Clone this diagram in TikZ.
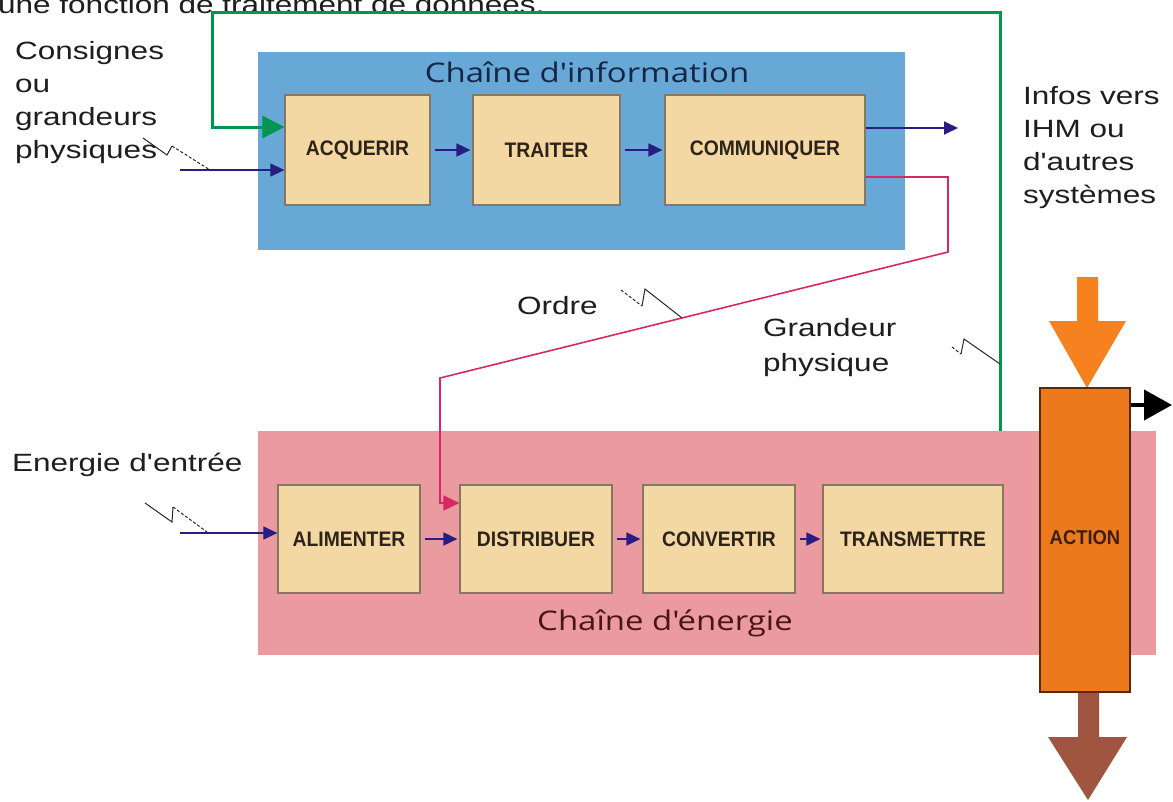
\documentclass[tikz,border=0pt]{standalone}
\usepackage{fontspec}
\setmainfont{Liberation Sans}
\newfontfamily\lblfont[FakeStretch=1.26]{Liberation Sans}
\newfontfamily\boxfont[FakeStretch=0.92]{Liberation Sans Bold}
\newfontfamily\titlefont[FakeStretch=1.22]{Open Sans}
\usetikzlibrary{arrows.meta}
\definecolor{infobg}{RGB}{104,168,214}
\definecolor{enbg}{RGB}{235,155,160}
\definecolor{boxbg}{RGB}{243,216,164}
\definecolor{boxline}{RGB}{130,120,100}
\definecolor{navy}{RGB}{40,30,130}
\definecolor{ordrec}{RGB}{215,40,100}
\definecolor{vert}{RGB}{0,150,80}
\definecolor{orangeA}{RGB}{236,122,28}
\definecolor{orangeB}{RGB}{245,130,30}
\definecolor{brun}{RGB}{160,85,65}
\definecolor{actline}{RGB}{90,40,10}
\definecolor{acttxt}{RGB}{60,30,10}
\definecolor{txt}{RGB}{30,30,30}
\definecolor{boxtxt}{RGB}{45,35,25}
\definecolor{infotitle}{RGB}{20,38,70}
\definecolor{entitle}{RGB}{75,20,25}
\tikzset{
  chainbg/.style={inner sep=0pt, draw=none},
  stepbox/.style={draw=boxline, fill=boxbg, line width=1.2pt, inner sep=0pt,
    text=boxtxt, font=\boxfont\fontsize{21}{24}\selectfont},
  lbl/.style={inner sep=0pt, text=txt, align=left, font=\lblfont\fontsize{25}{33}\selectfont},
  ttl/.style={inner sep=0pt, font=\titlefont\fontsize{27}{30}\selectfont},
  navyarrow/.style={draw=navy, line width=1.8pt, -{Triangle[length=14pt,width=13pt]}},
  thinarrow/.style={draw=navy, line width=1.1pt, -{Triangle[length=14pt,width=13pt]}},
  ordrearrow/.style={draw=ordrec, line width=1.6pt, -{Triangle[length=16pt,width=15pt]}},
  greenarrow/.style={draw=vert, line width=3pt, -{Triangle[length=22pt,width=22pt]}},
  blackarrow/.style={draw=black, line width=4pt, -{Triangle[length=28pt,width=30pt]}},
  bolt/.style={draw=black!85, line width=1pt},
  boltd/.style={draw=black!85, line width=1pt, dash pattern=on 3pt off 2pt},
}
\begin{document}
\begin{tikzpicture}[x=1pt,y=-1pt]
\useasboundingbox (0,0) rectangle (1173,801);
\fill[white] (0,0) rectangle (1173,801);

% top text (cut off at the upper edge in the reference)
\node[inner sep=0pt, anchor=base west, text=txt, font=\lblfont\fontsize{25}{30}\selectfont] (toptxt) at (-2,13) {une fonction de traitement de données.};

% chain backgrounds
\node[chainbg, fill=infobg, minimum width=647pt, minimum height=198pt] (info) at (581.5,151) {};
\node[chainbg, fill=enbg, minimum width=898pt, minimum height=224pt] (en) at (707,543) {};

\node[ttl, text=infotitle] (infot) at (587,72) {Chaîne d'information};
\node[ttl, text=entitle] (ent) at (665,623) {Chaîne d'énergie};

% info boxes
\node[stepbox, minimum width=145pt, minimum height=110pt] (acq) at (357.5,150) {ACQUERIR};
\node[stepbox, minimum width=147pt, minimum height=110pt] (tra) at (546.5,150) {TRAITER};
\node[stepbox, minimum width=200pt, minimum height=110pt] (comm) at (765,150) {COMMUNIQUER};

% energy boxes
\node[stepbox, minimum width=142pt, minimum height=108pt] (alim) at (349,539) {ALIMENTER};
\node[stepbox, minimum width=152pt, minimum height=108pt] (dist) at (536,539) {\raisebox{-4pt}{DISTRIBUER}};
\node[stepbox, minimum width=152pt, minimum height=108pt] (conv) at (719,539) {CONVERTIR};
\node[stepbox, minimum width=180pt, minimum height=108pt] (trans) at (913,539) {TRANSMETTRE};

% action
\fill[orangeB] (1077,277) -- (1098,277) -- (1098,321) -- (1126,321) -- (1087,388) -- (1049,321) -- (1077,321) -- cycle;
\fill[brun] (1078,690) -- (1099,690) -- (1099,737) -- (1127,737) -- (1088,800) -- (1048,737) -- (1078,737) -- cycle;
\node[draw=actline, line width=2pt, fill=orangeA, minimum width=90pt, minimum height=304pt, inner sep=0pt,
  text=acttxt, font=\boxfont\fontsize{20}{22}\selectfont] (action) at (1085,540) {\raisebox{5pt}{ACTION}};
\coordinate (outR) at (1172,405);
\draw[blackarrow] (action.east |- outR) -- (outR);

% info chain arrows
\draw[navyarrow, shorten <=4pt, shorten >=2pt] (acq) -- (tra);
\draw[navyarrow, shorten <=4pt, shorten >=2pt] (tra) -- (comm);
\coordinate (infoout) at (958,128);
\draw[navyarrow] (comm.east |- infoout) -- (infoout);
\coordinate (inA) at (180,170);
\draw[thinarrow] (inA) -- (inA -| acq.west);

% energy chain arrows
\draw[navyarrow, shorten <=4pt, shorten >=2pt] (alim) -- (dist);
\draw[navyarrow, shorten <=4pt, shorten >=2pt] (dist) -- (conv);
\draw[navyarrow, shorten <=4pt, shorten >=2pt] (conv) -- (trans);
\coordinate (inE) at (180,533);
\draw[thinarrow] (inE) -- (inE -| alim.west);

% ordre
\coordinate (o1) at (948,177);
\coordinate (o2) at (948,252);
\coordinate (o3) at (440,378);
\coordinate (o4) at (440,503);
\draw[ordrearrow] (comm.east |- o1) -- (o1) -- (o2) -- (o3) -- (o4) -- (dist.west |- o4);

% green feedback
\coordinate (g1) at (1000,12);
\coordinate (g2) at (212,12);
\coordinate (g3) at (212,127);
\draw[greenarrow] (en.north -| g1) -- (g1) -- (g2) -- (g3) -- (g3 -| acq.west);

% lightning symbols
\draw[bolt] (143,138) -- (167,155) -- (172,146);
\draw[boltd] (172,146) -- (210,170);
\draw[bolt] (145,503) -- (172,522) -- (173,507);
\draw[boltd] (173,507) -- (207,532);
\draw[boltd] (621,290) -- (642,306);
\draw[bolt] (642,306) -- (645,289) -- (682,318);
\draw[boltd] (952,347) -- (961,354);
\draw[bolt] (961,354) -- (964,339) -- (1000,364);

% labels
\node[lbl, anchor=north west] (consignes) at (15,41) {Consignes\\ou\\grandeurs\\physiques};
\node[lbl, anchor=north west] (infos) at (1023,86) {Infos vers\\IHM ou\\d'autres\\systèmes};
\node[lbl, anchor=base west] (ordre) at (517,314) {Ordre};
\node[lbl, anchor=north west, font=\lblfont\fontsize{25}{35}\selectfont] (grandeur) at (763,318) {Grandeur\\physique};
\node[lbl, anchor=base west] (energie) at (12,471) {Energie d'entrée};
\end{tikzpicture}
\end{document}
